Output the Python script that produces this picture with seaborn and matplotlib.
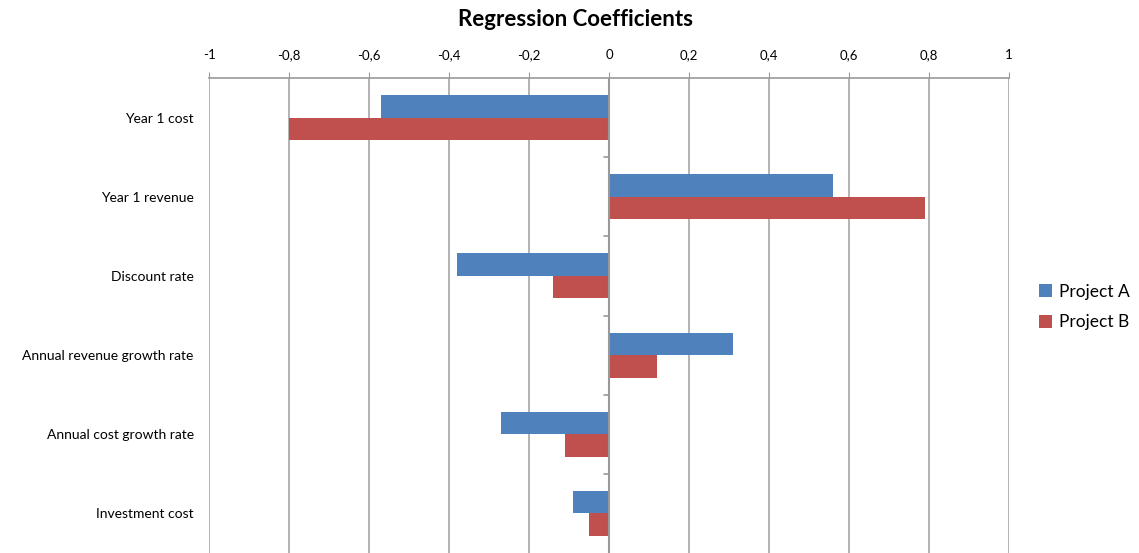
import matplotlib
matplotlib.use("Agg")
import pandas as pd
import matplotlib.pyplot as plt
import seaborn as sns
from matplotlib.ticker import FuncFormatter

# data
factores = ['Year 1 cost', 'Year 1 revenue', 'Discount rate',
            'Annual revenue growth rate', 'Annual cost growth rate', 'Investment cost']
projeto_a = [-0.57, 0.56, -0.38, 0.31, -0.27, -0.09]
projeto_b = [-0.80, 0.79, -0.14, 0.12, -0.11, -0.05]
series = ['Project A', 'Project B']
cores = ['#4F81BD', '#C0504D']
ticks_x = [-1, -0.8, -0.6, -0.4, -0.2, 0, 0.2, 0.4, 0.6, 0.8, 1]

df = pd.DataFrame({
    'Fator': factores * 2,
    'Coef': projeto_a + projeto_b,
    'Projeto': [series[0]] * len(factores) + [series[1]] * len(factores),
})

sns.set_style('white')
plt.rcParams['font.family'] = ['Lato', 'DejaVu Sans']
plt.rcParams['text.color'] = 'black'
plt.rcParams['xtick.color'] = 'black'
plt.rcParams['ytick.color'] = 'black'

fig = plt.figure(figsize=(11.39, 5.53), dpi=100)
ax = fig.add_axes([209 / 1139, 0, 800 / 1139, 1 - 78 / 553])

sns.barplot(data=df, y='Fator', x='Coef', hue='Projeto', order=factores,
            hue_order=series, palette=cores, width=0.57, orient='h',
            saturation=1, linewidth=0, ax=ax, zorder=3)

ax.set_xlim(-1, 1)
ax.set_ylim(len(factores) - 0.5, -0.5)
ax.set_xticks(ticks_x)
ax.xaxis.set_major_formatter(FuncFormatter(lambda v, p: ('%g' % round(v, 1)).replace('.', ',')))
ax.xaxis.tick_top()
ax.tick_params(axis='x', length=4, color='#999999', labelsize=9.5, pad=8)
ax.tick_params(axis='y', length=0, labelsize=10, pad=11)
ax.set_xlabel('')
ax.set_ylabel('')

for s in ['left', 'right', 'bottom']:
    ax.spines[s].set_visible(False)
ax.spines['top'].set_color('#999999')
ax.spines['top'].set_linewidth(1.2)

# vertical gridlines
ax.grid(axis='x', color='#A6A6A6', linewidth=1.2, zorder=0)
ax.axvline(0, color='#999999', linewidth=1.5, zorder=4)
# category boundary marks on the zero axis
for k in range(1, len(factores)):
    ax.plot([-0.012, 0], [k - 0.5, k - 0.5], color='#999999', linewidth=1.2,
            zorder=4, clip_on=False)

ax.legend(title=None, frameon=False, fontsize=12.5, loc='center left',
          bbox_to_anchor=(1.018, 0.518), handlelength=0.75, handleheight=0.75,
          handletextpad=0.4, labelspacing=0.85)

fig.text(575 / 1139, 1 - 20 / 553, 'Regression Coefficients', ha='center', va='center',
         fontsize=16, fontweight='bold')

fig.savefig('out.png', dpi=100)
